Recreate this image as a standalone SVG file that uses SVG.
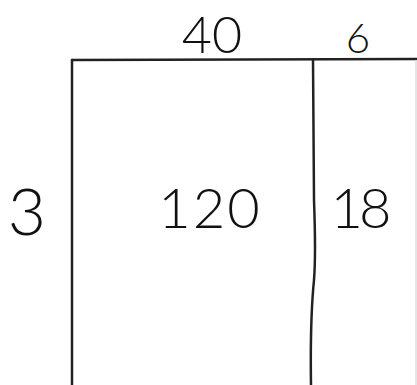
<svg xmlns="http://www.w3.org/2000/svg" width="417" height="385" viewBox="0 0 417 385">
<style>
.ln{fill:none;stroke:#222;stroke-width:2.5;stroke-linecap:round}
.t{font-family:"Lato","Liberation Sans",sans-serif;font-weight:300;fill:#111;text-anchor:middle}
</style>
<rect width="417" height="385" fill="#fff"/>
<g id="connectors">
<path class="ln" d="M72,60 L417,59"/>
<path class="ln" d="M72,60 L72,385"/>
<path class="ln" d="M313,60 L314,200 Q316,255 314,280 Q310,320 311,385"/>
<path d="M416,60 L416,385" stroke="#ddd" stroke-width="1.5" fill="none"/>
</g>
<g id="label-40"><text class="t" x="212" y="53" font-size="52">40</text></g>
<g id="label-6"><text class="t" x="358" y="53" font-size="42">6</text></g>
<g id="label-3"><text class="t" x="27" y="235" font-size="66">3</text></g>
<g id="cell-120"><text class="t" x="210" y="228" font-size="56" letter-spacing="2">120</text></g>
<g id="cell-18"><text class="t" x="359" y="228" font-size="56" letter-spacing="-4">18</text></g>
</svg>
